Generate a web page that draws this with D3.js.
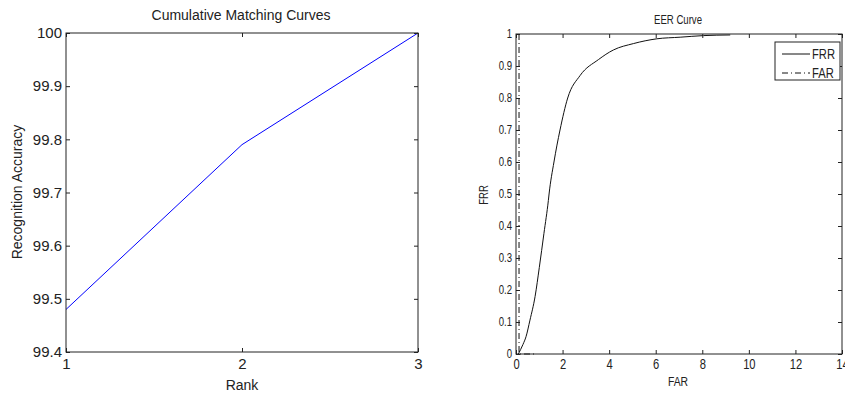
<!DOCTYPE html>
<html>
<head>
<meta charset="utf-8">
<script src="https://cdn.jsdelivr.net/npm/d3@7"></script>
<style>
  body { margin: 0; background: #fff; }
  svg { display: block; }
  .tick line { stroke: #222; }
</style>
</head>
<body>
<div id="chart"></div>
<script>
// Cumulative matching curve
const cmcRanks = [1, 2, 3];
const cmcAccuracy = [99.48, 99.79, 100];
const cmcYTicks = [99.4, 99.5, 99.6, 99.7, 99.8, 99.9, 100];

// EER curve (FRR plotted against FAR)
const frrX = [0.1, 0.3, 0.43, 0.6, 0.82, 1.0, 1.2, 1.39, 1.42, 1.63, 1.89, 2.22, 2.75, 3.54, 4.18, 5.04, 6.05, 7.05, 8.05, 9.2];
const frrY = [0, 0.03, 0.054, 0.106, 0.18, 0.27, 0.377, 0.48, 0.5, 0.6, 0.7, 0.8, 0.87, 0.92, 0.95, 0.97, 0.985, 0.99, 0.995, 0.997];
const farX = [0.13, 0.13, 0.9];
const farY = [1, 0, 0];
const eerXTicks = [0, 2, 4, 6, 8, 10, 12, 14];
const eerYTicks = [0, 0.1, 0.2, 0.3, 0.4, 0.5, 0.6, 0.7, 0.8, 0.9, 1];

const width = 845, height = 396;
const font = "'Liberation Sans', Arial, Helvetica, sans-serif";
const squeeze = 0.8; // right panel text looks condensed

const svg = d3.select("#chart").append("svg")
  .attr("width", width)
  .attr("height", height)
  .attr("font-family", font);

function drawBox(g, x, y, color) {
  const [x0, x1] = x.range();
  const [y0, y1] = y.range();
  g.append("rect")
    .attr("x", x0).attr("y", y1)
    .attr("width", x1 - x0).attr("height", y0 - y1)
    .attr("fill", "none").attr("stroke", color).attr("stroke-width", 1);
}

// ticks drawn inward on all four sides, matlab style
function drawAxes(g, x, y, opts) {
  const [x0, x1] = x.range();
  const [y0, y1] = y.range();
  const tk = 4;

  const bottom = g.append("g").attr("transform", `translate(0,${y0})`)
    .call(d3.axisBottom(x).tickValues(opts.xTicks).tickSize(-tk).tickSizeOuter(0)
      .tickPadding(opts.xPad).tickFormat(d3.format("d")));
  const top = g.append("g").attr("transform", `translate(0,${y1})`)
    .call(d3.axisTop(x).tickValues(opts.xTicks).tickSize(-tk).tickSizeOuter(0).tickFormat(""));
  const left = g.append("g").attr("transform", `translate(${x0},0)`)
    .call(d3.axisLeft(y).tickValues(opts.yTicks).tickSize(-tk).tickSizeOuter(0)
      .tickPadding(opts.yPad).tickFormat(opts.yFormat));
  const right = g.append("g").attr("transform", `translate(${x1},0)`)
    .call(d3.axisRight(y).tickValues(opts.yTicks).tickSize(-tk).tickSizeOuter(0).tickFormat(""));

  [bottom, top, left, right].forEach(a => a.select(".domain").remove());
  bottom.selectAll("text").attr("fill", "#222")
    .style("font-size", opts.xSize + "px")
    .attr("transform", `scale(${opts.sx},1)`);
  left.selectAll("text").attr("fill", "#222")
    .style("font-size", opts.ySize + "px")
    .attr("transform", `scale(${opts.sx},1)`);
}

function label(g, text, x, y, size, sx, rotate) {
  g.append("text")
    .attr("transform", `translate(${x},${y})` + (rotate ? " rotate(-90)" : "") + ` scale(${sx},1)`)
    .attr("text-anchor", "middle")
    .style("font-size", size + "px")
    .attr("fill", "#222")
    .text(text);
}

// ---------- Left chart ----------
const left = svg.append("g");
const xL = d3.scaleLinear().domain([1, 3]).range([66, 418]);
const yL = d3.scaleLinear().domain([99.4, 100]).range([352, 33]);

left.append("path")
  .datum(cmcRanks.map((r, i) => [r, cmcAccuracy[i]]))
  .attr("d", d3.line().x(d => xL(d[0])).y(d => yL(d[1])))
  .attr("fill", "none")
  .attr("stroke", "#0000ff")
  .attr("stroke-width", 1);

drawAxes(left, xL, yL, {
  xTicks: cmcRanks, yTicks: cmcYTicks,
  yFormat: d => String(+d.toFixed(1)),
  xPad: 6, yPad: 4, xSize: 15, ySize: 15, sx: 1
});
drawBox(left, xL, yL, "#222");

label(left, "Cumulative Matching Curves", 241, 20, 14, 1);
label(left, "Rank", 242, 390, 14, 1);
label(left, "Recognition Accuracy", 22, 192, 14, 1, true);

// ---------- Right chart ----------
const right = svg.append("g");
const xR = d3.scaleLinear().domain([0, 14]).range([516, 842]);
const yR = d3.scaleLinear().domain([0, 1]).range([354, 34]);

right.append("path")
  .datum(frrX.map((v, i) => [v, frrY[i]]))
  .attr("d", d3.line().x(d => xR(d[0])).y(d => yR(d[1])).curve(d3.curveMonotoneX))
  .attr("fill", "none")
  .attr("stroke", "#111")
  .attr("stroke-width", 1);

right.append("path")
  .datum(farX.map((v, i) => [v, farY[i]]))
  .attr("d", d3.line().x(d => xR(d[0])).y(d => yR(d[1])))
  .attr("fill", "none")
  .attr("stroke", "#111")
  .attr("stroke-width", 1)
  .attr("stroke-dasharray", "6,3,1,3");

drawAxes(right, xR, yR, {
  xTicks: eerXTicks, yTicks: eerYTicks,
  yFormat: d3.format(""),
  xPad: 5, yPad: 5, xSize: 14, ySize: 12, sx: squeeze
});
drawBox(right, xR, yR, "#222");

label(right, "EER Curve", 678, 24, 12, squeeze);
label(right, "FAR", 678, 386, 13, squeeze);
label(right, "FRR", 488, 195, 12, squeeze, true);

// legend
const legendItems = [
  { name: "FRR", dash: null },
  { name: "FAR", dash: "6,3,1,3" }
];
const legend = right.append("g").attr("transform", "translate(775,42)");
legend.append("rect")
  .attr("width", 65).attr("height", 38)
  .attr("fill", "#fff").attr("stroke", "#222");
legendItems.forEach((item, i) => {
  const ly = 12 + i * 19;
  legend.append("line")
    .attr("x1", 7).attr("x2", 35).attr("y1", ly).attr("y2", ly)
    .attr("stroke", "#111")
    .attr("stroke-dasharray", item.dash);
  legend.append("text")
    .attr("transform", `translate(37,${ly + 4.5}) scale(${squeeze},1)`)
    .style("font-size", "14px").attr("fill", "#222")
    .text(item.name);
});
</script>
</body>
</html>
